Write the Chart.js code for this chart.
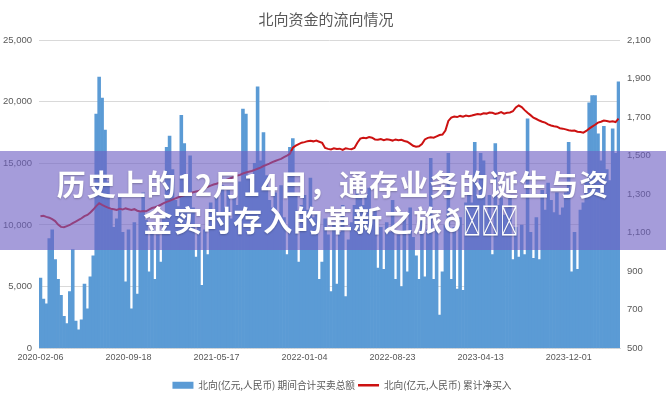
<!DOCTYPE html>
<html lang="zh-CN">
<head>
<meta charset="utf-8">
<title>北向资金的流向情况</title>
<script src="https://cdn.jsdelivr.net/npm/chart.js@4.4.1/dist/chart.umd.min.js"></script>
<style>
  html, body { margin: 0; padding: 0; background: #fff; }
  #wrap { position: relative; width: 666px; height: 400px; overflow: hidden; }
  #banner {
    position: absolute; left: 0; top: 151px; width: 666px; height: 99px;
    background: rgba(110, 96, 196, 0.62);
    display: flex; flex-direction: column; justify-content: center; align-items: center;
    color: #fff; font-family: "Noto Sans CJK SC", sans-serif; font-weight: 700;
    font-size: 29px; line-height: 36px; letter-spacing: 1px; text-align: center;
    text-shadow: 0 1px 2px rgba(0, 0, 0, 0.25);
  }
  #banner .tofu {
    display: inline-block; transform: scaleX(0.62); transform-origin: left center;
    margin-right: -30px;
  }
</style>
</head>
<body>
<div id="wrap">
  <canvas id="flow-chart" width="666" height="400"></canvas>
  <div id="banner">
    <div>历史上的12月14日，通存业务的诞生与资</div>
    <div>金实时存入的革新之旅ð<span class="tofu">&#xE000;&#xE001;&#xE002;</span></div>
  </div>
</div>
<script>
// etiquetas del eje X (una cada 30 barras)
const tickLabels = ['2020-02-06', '2020-09-18', '2021-05-17', '2022-01-04', '2022-08-23', '2023-04-13', '2023-12-01'];
const tickEvery = 30;

// 北向 期间合计买卖总额 (亿元)
const totalTurnover = [
  5700, 4000, 3600, 8900, 9600, 7200, 5600, 4300, 2600, 2000,
  4600, 8000, 2200, 1500, 2300, 5200, 3200, 5800, 7500, 19000,
  22000, 20300, 17700, 13500, 11200, 9800, 10500, 12200, 9400, 5400,
  9600, 3200, 10200, 4400, 11000, 12600, 10400, 6200, 9800, 5600,
  9200, 7000, 10500, 16300, 17200, 14500, 12000, 11500, 18900, 16600,
  12800, 15600, 11400, 7400, 10000, 5100, 9600, 7600, 11800, 10600,
  12400, 10800, 13200, 11400, 12800, 10500, 12200, 11600, 13500, 19400,
  19000, 14000, 12500, 15000, 21200, 15200, 17500, 14000, 12000, 11400,
  12600, 11000, 13200, 10600, 7600, 16300, 17000, 12500, 7000, 11600,
  12400, 11200, 13800, 10600, 11000, 5600, 7000, 10500, 9200, 4600,
  10000, 5200, 9400, 11600, 4200, 8800, 10200, 11600, 13000, 12200,
  11600, 12400, 13000, 10800, 11200, 6500, 9800, 6400, 10200, 9400,
  12000, 5600, 9200, 5000, 10800, 6200, 11400, 9000, 7500, 5600,
  10600, 5800, 9600, 15400, 5600, 10000, 2700, 6200, 10000, 15800,
  5600, 9800, 4800, 10600, 4700, 11800, 12600, 11800, 16700, 12400,
  15800, 15200, 11000, 12400, 7600, 16600, 11600, 12200, 10800, 11400,
  12200, 7200, 9800, 7400, 10000, 7600, 18600, 9400, 7300, 10600,
  7200, 12800, 11200, 13400, 12000, 11000, 12600, 10800, 11400, 12600,
  16700, 6200, 9400, 6400, 11200, 11800, 13600, 19900, 20500, 20500,
  17400, 15200, 18000, 14500, 13600, 17800, 15800, 21600
];

// 北向 累计净买入 (亿元)
const netBuy = [
  1185, 1188, 1182, 1178, 1170, 1160, 1142, 1130, 1128, 1134,
  1140, 1150, 1158, 1166, 1175, 1186, 1192, 1205, 1220, 1238,
  1253, 1244, 1237, 1230, 1224, 1222, 1218, 1224, 1220, 1226,
  1222, 1218, 1222, 1214, 1210, 1212, 1211, 1220, 1228, 1232,
  1238, 1245, 1253, 1260, 1265, 1272, 1278, 1284, 1290, 1294,
  1300, 1305, 1310, 1314, 1316, 1325, 1333, 1338, 1344, 1350,
  1354, 1360, 1366, 1372, 1378, 1384, 1390, 1396, 1400, 1407,
  1412, 1416, 1420, 1426, 1432, 1438, 1446, 1452, 1458, 1466,
  1472, 1478, 1483, 1492, 1500, 1509, 1541, 1552, 1560, 1567,
  1570, 1575, 1577, 1574, 1578, 1572, 1566, 1540, 1535, 1532,
  1538, 1534, 1536, 1530, 1538, 1535, 1533, 1540, 1567, 1588,
  1593, 1590, 1596, 1593, 1584, 1582, 1586, 1580, 1585, 1582,
  1578, 1584, 1580, 1582, 1576, 1572, 1562, 1551, 1546, 1548,
  1560, 1584, 1592, 1595, 1593, 1600, 1607, 1609, 1630, 1680,
  1697, 1703, 1700, 1706, 1702, 1708, 1705, 1708, 1712, 1716,
  1714, 1720, 1718, 1724, 1722, 1716, 1720, 1726, 1718, 1722,
  1724, 1730, 1750, 1760, 1752, 1736, 1722, 1710, 1697, 1690,
  1682, 1676, 1671, 1662, 1656, 1652, 1650, 1642, 1640, 1636,
  1632, 1629, 1630, 1624, 1622, 1619, 1628, 1640, 1650, 1660,
  1671, 1676, 1682, 1680, 1676, 1678, 1674, 1692
];

const categories = totalTurnover.map((_, i) => i);

const barBlue = '#5b9bd5';
const lineRed = '#cc1111';
const textGray = '#595959';
const tickFont = { family: "'Liberation Sans', sans-serif", size: 9.5 };

// pequeño ajuste horizontal del título y la leyenda
const nudgeBoxes = {
    id: 'nudgeBoxes',
    afterLayout(chart) {
        chart.titleBlock.left -= 7;
        chart.titleBlock.right -= 7;
        chart.legend.left += 9;
        chart.legend.right += 9;
    }
};

document.addEventListener('DOMContentLoaded', () => {
    const ctx = document.getElementById('flow-chart').getContext('2d');

    new Chart(ctx, {
        type: 'bar',
        data: {
            labels: categories,
            datasets: [{
                label: '北向(亿元,人民币) 期间合计买卖总额',
                data: totalTurnover,
                backgroundColor: barBlue,
                borderWidth: 0,
                barPercentage: 1,
                categoryPercentage: 1,
                yAxisID: 'y',
                order: 1
            }, {
                type: 'line',
                label: '北向(亿元,人民币) 累计净买入',
                data: netBuy,
                borderColor: lineRed,
                backgroundColor: lineRed,
                borderWidth: 2,
                pointRadius: 0,
                tension: 0,
                yAxisID: 'y1',
                order: 0
            }]
        },
        plugins: [nudgeBoxes],
        options: {
            responsive: false,
            animation: false,
            layout: { padding: 0 },
            plugins: {
                title: {
                    display: true,
                    text: '北向资金的流向情况',
                    color: textGray,
                    font: { family: "'Noto Sans CJK SC', sans-serif", size: 15, weight: 'normal' },
                    padding: { top: 10, bottom: 12 }
                },
                legend: {
                    position: 'bottom',
                    labels: {
                        color: textGray,
                        font: { family: "'Noto Sans CJK SC', sans-serif", size: 9.7 },
                        usePointStyle: true,
                        pointStyleWidth: 21,
                        boxHeight: 7,
                        padding: 3,
                        sort: (a, b) => a.datasetIndex - b.datasetIndex,
                        generateLabels: (chart) => {
                            const items = Chart.defaults.plugins.legend.labels.generateLabels(chart);
                            items.forEach(it => {
                                if (it.datasetIndex === 0) {
                                    it.pointStyle = 'rect';
                                    it.lineWidth = 0;
                                    it.fillStyle = barBlue;
                                } else {
                                    it.pointStyle = 'line';
                                    it.lineWidth = 2.5;
                                    it.strokeStyle = lineRed;
                                }
                            });
                            return items;
                        }
                    }
                },
                tooltip: { enabled: false }
            },
            scales: {
                x: {
                    grid: { display: false, drawTicks: false },
                    border: { display: true, color: '#d9d9d9' },
                    ticks: {
                        autoSkip: false,
                        maxRotation: 0,
                        padding: 4,
                        color: textGray,
                        font: { ...tickFont, size: 9 },
                        callback: (val, idx) => (idx % tickEvery === 0 ? tickLabels[idx / tickEvery] : null)
                    },
                    afterFit: (scale) => { scale.height = 29; }
                },
                y: {
                    position: 'left',
                    min: 0,
                    max: 25000,
                    grid: { color: '#d9d9d9', drawTicks: false },
                    border: { display: false },
                    ticks: {
                        stepSize: 5000,
                        padding: 7,
                        color: textGray,
                        font: tickFont,
                        callback: (v) => v.toLocaleString('en-US')
                    },
                    afterFit: (scale) => { scale.width = 39; }
                },
                y1: {
                    position: 'right',
                    min: 500,
                    max: 2100,
                    grid: { display: false, drawTicks: false },
                    border: { display: false },
                    ticks: {
                        stepSize: 200,
                        padding: 7,
                        color: textGray,
                        font: tickFont,
                        callback: (v) => v.toLocaleString('en-US')
                    },
                    afterFit: (scale) => { scale.width = 46; }
                }
            }
        }
    });
});
</script>
</body>
</html>
